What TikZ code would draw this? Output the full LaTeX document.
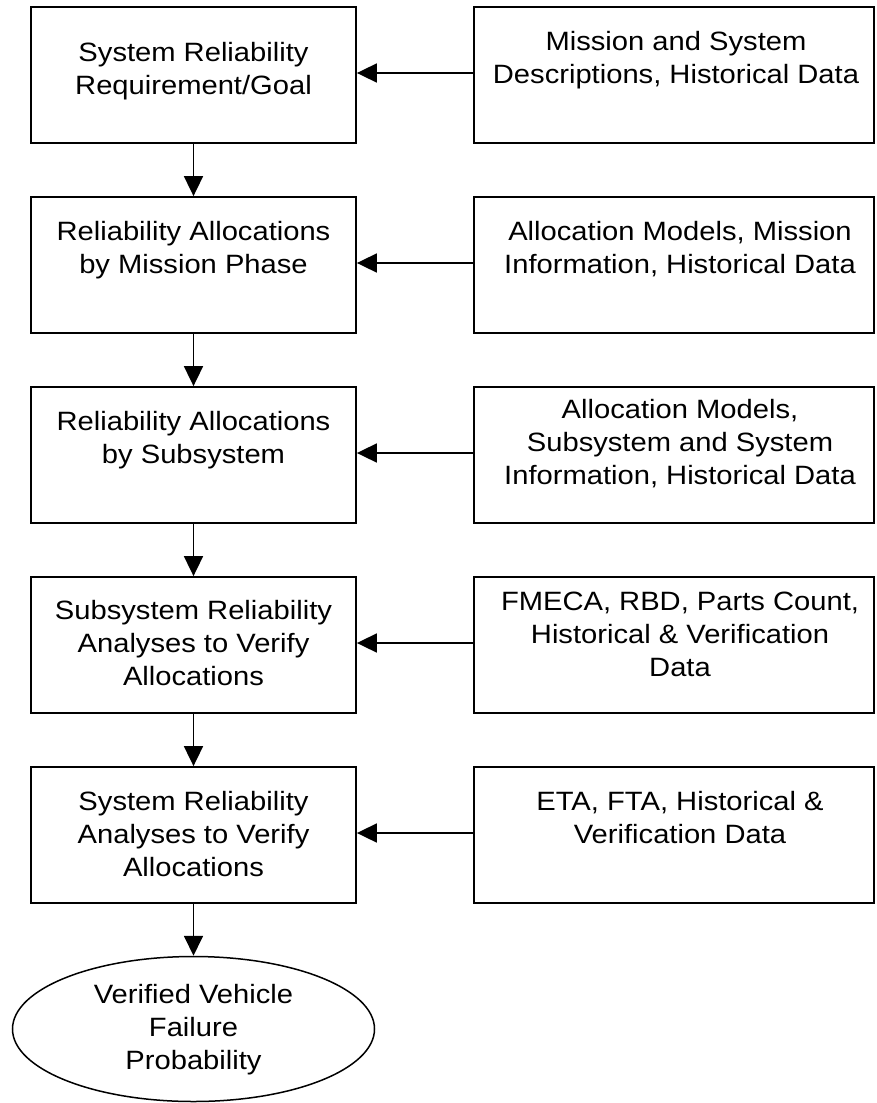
\documentclass[tikz,border=0pt]{standalone}
\usepackage{fontspec}
\setmainfont{Liberation Sans}[FakeStretch=1.10]
\usetikzlibrary{arrows.meta,shapes.geometric}

% stacked, centred lines whose reference point is the first baseline
\newcommand\txtlines[1]{\begin{tabular}[t]{@{}c@{}}#1\end{tabular}}

\begin{document}
\begin{tikzpicture}[x=1pt,y=-1pt,
  stepbox/.style={draw=black,line width=1.8pt,rectangle,inner sep=0pt,
    minimum width=325pt,minimum height=136pt},
  srcbox/.style={draw=black,line width=1.8pt,rectangle,inner sep=0pt,
    minimum width=400pt,minimum height=136pt},
  endnode/.style={draw=black,line width=1.5pt,ellipse,inner sep=0pt,
    minimum width=362pt,minimum height=145pt},
  lbl/.style={anchor=base,inner sep=0pt,
    font=\fontsize{26.5}{33}\selectfont},
  arr/.style={line width=1.8pt,-{Triangle[length=20pt,width=19pt]}}]

\useasboundingbox (0,0) rectangle (876,1103);

% left column: process steps
\node[stepbox] (l1) at (193.5,75)  {};
\node[stepbox] (l2) at (193.5,265) {};
\node[stepbox] (l3) at (193.5,455) {};
\node[stepbox] (l4) at (193.5,645) {};
\node[stepbox] (l5) at (193.5,835) {};
\node[endnode] (e)  at (193.5,1029) {};

% right column: inputs
\node[srcbox] (r1) at (674,75)  {};
\node[srcbox] (r2) at (674,265) {};
\node[srcbox] (r3) at (674,455) {};
\node[srcbox] (r4) at (674,645) {};
\node[srcbox] (r5) at (674,835) {};

% texts of the steps
\node[lbl] (tl1) at (193.5,61)  {\txtlines{System Reliability\\Requirement/Goal}};
\node[lbl] (tl2) at (193.5,240) {\txtlines{Reliability Allocations\\by Mission Phase}};
\node[lbl] (tl3) at (193.5,430) {\txtlines{Reliability Allocations\\by Subsystem}};
\node[lbl] (tl4) at (193.5,619) {\txtlines{Subsystem Reliability\\Analyses to Verify\\Allocations}};
\node[lbl] (tl5) at (193.5,810) {\txtlines{System Reliability\\Analyses to Verify\\Allocations}};
\node[lbl] (te)  at (193.5,1003) {\txtlines{Verified Vehicle\\Failure\\Probability}};

% texts of the inputs
\node[lbl] (tr1) at (676,50)  {\txtlines{Mission and System\\Descriptions, Historical Data}};
\node[lbl] (tr2) at (680,240) {\txtlines{Allocation Models, Mission\\Information, Historical Data}};
\node[lbl] (tr3) at (680,418) {\txtlines{Allocation Models,\\Subsystem and System\\Information, Historical Data}};
\node[lbl] (tr4) at (680,610) {\txtlines{FMECA, RBD, Parts Count,\\Historical \& Verification\\Data}};
\node[lbl] (tr5) at (680,810) {\txtlines{ETA, FTA, Historical \&\\Verification Data}};

% flow down the left column
\draw[arr] (l1.south) -- (l2.north);
\draw[arr] (l2.south) -- (l3.north);
\draw[arr] (l3.south) -- (l4.north);
\draw[arr] (l4.south) -- (l5.north);
\draw[arr] (l5.south) -- (e.north);

% inputs feeding each step
\foreach \i in {1,...,5}
  \draw[arr] ([yshift=2pt]r\i.west) -- ([yshift=2pt]l\i.east);

\end{tikzpicture}
\end{document}
